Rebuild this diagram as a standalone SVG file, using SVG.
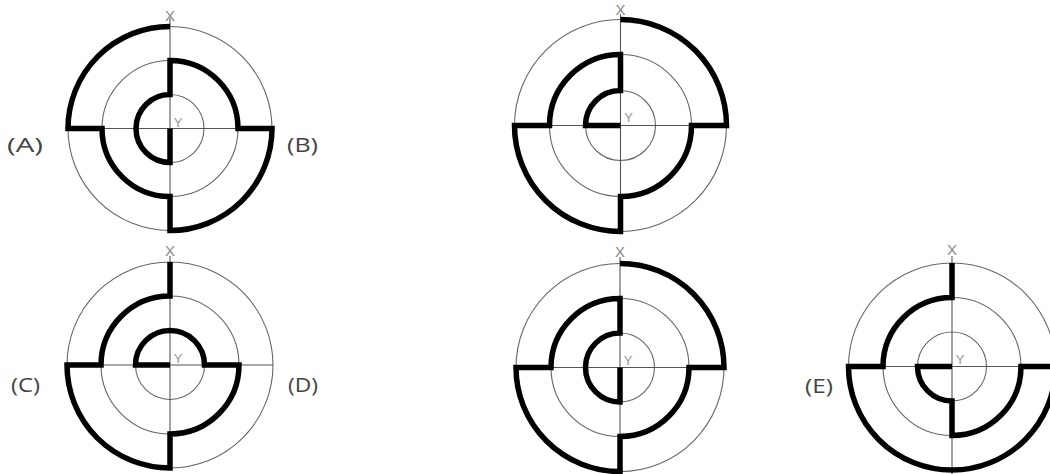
<svg xmlns="http://www.w3.org/2000/svg" width="1050" height="474" viewBox="0 0 1050 474">
<style>
.ring{fill:none;stroke:#666;stroke-width:1.1}
.axis{fill:none;stroke:#555;stroke-width:1.1}
.maze{fill:none;stroke:#000;stroke-width:5.5;stroke-linejoin:miter;stroke-linecap:butt}
.ax{font-family:"Liberation Sans",Arial,sans-serif;font-size:15px;fill:#888;text-anchor:middle}
.ay{font-family:"Liberation Sans",Arial,sans-serif;font-size:13px;fill:#999;text-anchor:middle}
.lbl{font-family:"Open Sans","Liberation Sans",Arial,sans-serif;font-size:20px;fill:#444}
</style>
<rect width="1050" height="474" fill="#fff"/>
<g id="fig1">
<circle class="ring" cx="170" cy="128.5" r="34"/>
<circle class="ring" cx="170" cy="128.5" r="68"/>
<circle class="ring" cx="170" cy="128.5" r="102"/>
<line class="axis" x1="170" y1="18" x2="170" y2="231"/>
<line class="axis" x1="68" y1="128.5" x2="272" y2="128.5"/>
<path class="maze" d="M170,26.5 A102,102 0 0 0 68,128.5 L102,128.5 A68,68 0 0 0 170,196.5 L170,230.5 A102,102 0 0 0 272,128.5 L238,128.5 A68,68 0 0 0 170,60.5 L170,94.5 A34,34 0 0 0 170,162.5 L170,128.5"/>
<text class="ax" x="170" y="21">X</text>
<text class="ay" x="178" y="127">Y</text>
</g>
<g id="fig2">
<circle class="ring" cx="620.5" cy="125.5" r="35"/>
<circle class="ring" cx="620.5" cy="125.5" r="71"/>
<circle class="ring" cx="620.5" cy="125.5" r="106"/>
<line class="axis" x1="620.5" y1="14" x2="620.5" y2="232"/>
<line class="axis" x1="514.5" y1="125.5" x2="726.5" y2="125.5"/>
<path class="maze" d="M620.5,19.5 A106,106 0 0 1 726.5,125.5 L691.5,125.5 A71,71 0 0 1 620.5,196.5 L620.5,231.5 A106,106 0 0 1 514.5,125.5 L549.5,125.5 A71,71 0 0 1 620.5,54.5 L620.5,90.5 A35,35 0 0 0 585.5,125.5 L620.5,125.5"/>
<text class="ax" x="620.5" y="15">X</text>
<text class="ay" x="628.5" y="122">Y</text>
</g>
<g id="fig3">
<circle class="ring" cx="170" cy="365" r="34.5"/>
<circle class="ring" cx="170" cy="365" r="69"/>
<circle class="ring" cx="170" cy="365" r="103"/>
<line class="axis" x1="170" y1="256" x2="170" y2="468"/>
<line class="axis" x1="67" y1="365" x2="273" y2="365"/>
<path class="maze" d="M170,262 L170,296 A69,69 0 0 0 101,365 L67,365 A103,103 0 0 0 170,468 L170,434 A69,69 0 0 0 239,365 L204.5,365 A34.5,34.5 0 0 0 135.5,365 L170,365"/>
<text class="ax" x="170" y="256">X</text>
<text class="ay" x="178" y="363">Y</text>
</g>
<g id="fig4">
<circle class="ring" cx="620" cy="367.5" r="34.5"/>
<circle class="ring" cx="620" cy="367.5" r="69"/>
<circle class="ring" cx="620" cy="367.5" r="104"/>
<line class="axis" x1="620" y1="257" x2="620" y2="472"/>
<line class="axis" x1="516" y1="367.5" x2="724" y2="367.5"/>
<path class="maze" d="M620,263.5 A104,104 0 0 1 724,367.5 L689,367.5 A69,69 0 0 1 620,436.5 L620,471.5 A104,104 0 0 1 516,367.5 L551,367.5 A69,69 0 0 1 620,298.5 L620,333 A34.5,34.5 0 0 0 620,402 L620,367.5"/>
<text class="ax" x="620" y="257">X</text>
<text class="ay" x="628" y="365">Y</text>
</g>
<g id="fig5">
<circle class="ring" cx="952" cy="366.5" r="34.5"/>
<circle class="ring" cx="952" cy="366.5" r="69"/>
<circle class="ring" cx="952" cy="366.5" r="103.5"/>
<line class="axis" x1="952" y1="256" x2="952" y2="474"/>
<line class="axis" x1="848.5" y1="366.5" x2="1055.5" y2="366.5"/>
<path class="maze" d="M952,263 L952,297.5 A69,69 0 0 0 883,366.5 L848.5,366.5 A103.5,103.5 0 0 0 1055.5,366.5 L1021,366.5 A69,69 0 0 1 952,435.5 L952,401 A34.5,34.5 0 0 1 917.5,366.5 L952,366.5"/>
<text class="ax" x="952" y="255">X</text>
<text class="ay" x="960" y="364">Y</text>
</g>
<g id="labels">
<text class="lbl" x="7" y="152" textLength="36" lengthAdjust="spacingAndGlyphs">(A)</text>
<text class="lbl" x="287" y="152" textLength="31" lengthAdjust="spacingAndGlyphs">(B)</text>
<text class="lbl" x="11" y="392" textLength="29" lengthAdjust="spacingAndGlyphs">(C)</text>
<text class="lbl" x="288" y="392" textLength="30" lengthAdjust="spacingAndGlyphs">(D)</text>
<text class="lbl" x="805" y="393" textLength="28" lengthAdjust="spacingAndGlyphs">(E)</text>
</g>
</svg>
